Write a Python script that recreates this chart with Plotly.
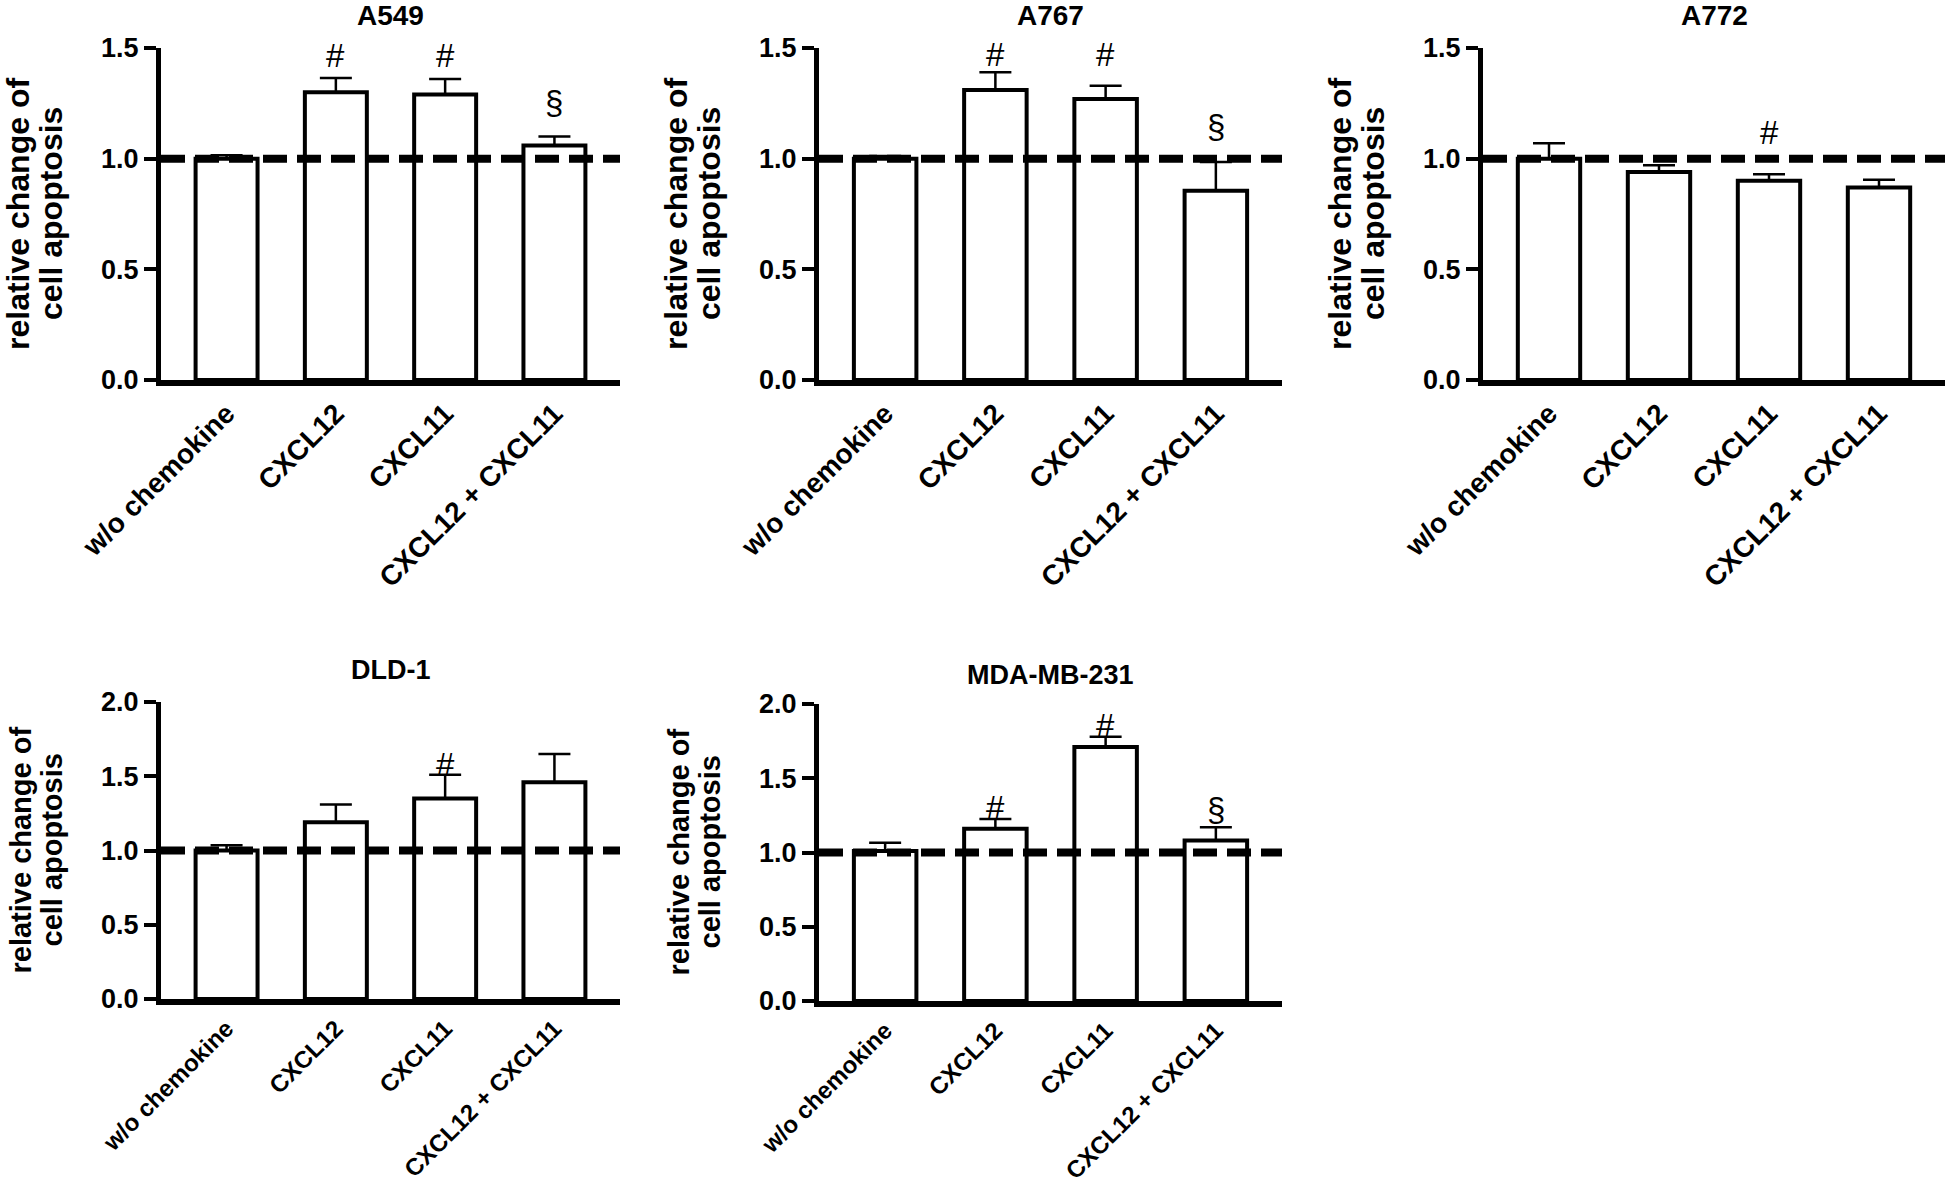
import plotly.graph_objects as go

# ---------------- data ----------------
categories = ["w/o chemokine", "CXCL12", "CXCL11", "CXCL12 + CXCL11"]

panel_names = ["A549", "A767", "A772", "DLD-1", "MDA-MB-231"]

a549_mean = [1.00, 1.30, 1.29, 1.06]
a549_err = [0.015, 0.065, 0.07, 0.04]
a549_sym = ["", "#", "#", "§"]

a767_mean = [1.00, 1.31, 1.27, 0.855]
a767_err = [0.012, 0.08, 0.06, 0.13]
a767_sym = ["", "#", "#", "§"]

a772_mean = [1.00, 0.94, 0.90, 0.87]
a772_err = [0.07, 0.03, 0.03, 0.035]
a772_sym = ["", "", "#", ""]

dld1_mean = [1.00, 1.19, 1.35, 1.46]
dld1_err = [0.035, 0.12, 0.16, 0.19]
dld1_sym = ["", "", "#", ""]

mda_mean = [1.01, 1.16, 1.71, 1.08]
mda_err = [0.055, 0.065, 0.07, 0.09]
mda_sym = ["", "#", "#", "§"]

top_ticks = [0.0, 0.5, 1.0, 1.5]
bottom_ticks = [0.0, 0.5, 1.0, 1.5, 2.0]
reference_level = 1.0

y_title_lines = ["relative change of", "cell apoptosis"]

# ---------------- layout (pixels) ----------------
W, H = 1945, 1186
FONT = "Liberation Sans, Arial, sans-serif"

top_style = dict(label=28, ytitle=32, title=28, offsets=(-143, -110))
bottom_style = dict(label=24, ytitle=29, title=27, offsets=(-141, -110))

layout_cfg = [
    dict(x=(161, 620), y=(48, 380), ty=15, shift=[0, 22, 23, 34], st=top_style),
    dict(x=(819, 1282), y=(48, 380), ty=15, shift=[0, 18, 31, 35], st=top_style),
    dict(x=(1483, 1945), y=(48, 380), ty=15, shift=[0, 0, 42, 0], st=top_style),
    dict(x=(161, 620), y=(702, 999), ty=670, shift=[0, 0, 10, 0], st=bottom_style),
    dict(x=(819, 1282), y=(704, 1001), ty=675, shift=[0, 12, 11, 18], st=bottom_style),
]

series = [
    (a549_mean, a549_err, a549_sym, top_ticks),
    (a767_mean, a767_err, a767_sym, top_ticks),
    (a772_mean, a772_err, a772_sym, top_ticks),
    (dld1_mean, dld1_err, dld1_sym, bottom_ticks),
    (mda_mean, mda_err, mda_sym, bottom_ticks),
]

fig = go.Figure()
annotations = []
shapes = []
lay = {}

for i, (name, cfg, (mean, err, sym, ticks)) in enumerate(zip(panel_names, layout_cfg, series)):
    k = "" if i == 0 else str(i + 1)
    xa, ya = "x" + k, "y" + k
    st = cfg["st"]
    fig.add_trace(go.Bar(
        x=categories, y=mean, xaxis=xa, yaxis=ya,
        width=0.567,
        marker=dict(color="white", line=dict(color="black", width=4)),
        error_y=dict(type="data", symmetric=False, array=err,
                     arrayminus=[0] * len(err), width=16, thickness=2.5,
                     color="black"),
        showlegend=False, hoverinfo="skip",
    ))
    x0, x1 = cfg["x"]
    yt, yb = cfg["y"]
    lay["xaxis" + k] = dict(
        domain=[x0 / W, x1 / W], anchor=ya, type="category",
        range=[-0.6, len(categories) - 0.4], automargin=False,
        showline=True, linewidth=6, linecolor="black", ticks="",
        tickangle=-45, showgrid=False, zeroline=False,
        tickfont=dict(family=FONT, size=st["label"], color="black", weight="bold"),
    )
    lay["yaxis" + k] = dict(
        domain=[1 - yb / H, 1 - yt / H], anchor=xa, automargin=False,
        range=[0, ticks[-1]], tickvals=ticks,
        ticktext=[f"{t:.1f}" for t in ticks],
        showline=True, linewidth=5, linecolor="black",
        ticks="outside", ticklen=12, tickwidth=4, tickcolor="black",
        showgrid=False, zeroline=False,
        tickfont=dict(family=FONT, size=27, color="black", weight="bold"),
    )
    # dashed reference line
    shapes.append(dict(type="line", xref=xa + " domain", yref=ya,
                       x0=0, x1=1, y0=reference_level, y1=reference_level,
                       line=dict(color="black", width=8, dash="24px,10px"),
                       layer="above"))
    # panel title
    annotations.append(dict(text=name, xref="paper", yref="paper",
                            x=(x0 + x1) / 2 / W, y=1 - cfg["ty"] / H,
                            xanchor="center", yanchor="middle", showarrow=False,
                            font=dict(family=FONT, size=st["title"], color="black", weight="bold")))
    # y-axis title (two lines)
    for line, off in zip(y_title_lines, st["offsets"]):
        annotations.append(dict(text=line, xref=xa + " domain", yref=ya + " domain",
                                x=0, y=0.5, xshift=off, xanchor="center", yanchor="middle",
                                textangle=-90, showarrow=False,
                                font=dict(family=FONT, size=st["ytitle"], color="black", weight="bold")))
    # significance symbols
    for c, m, e, s, sh in zip(categories, mean, err, sym, cfg["shift"]):
        if s:
            annotations.append(dict(text=s, xref=xa, yref=ya, x=c, y=m + e,
                                    yshift=sh, xanchor="center", yanchor="middle",
                                    showarrow=False,
                                    font=dict(family=FONT, size=33, color="black")))

fig.update_layout(
    width=W, height=H, margin=dict(l=0, r=0, t=0, b=0),
    paper_bgcolor="white", plot_bgcolor="white",
    annotations=annotations, shapes=shapes, **lay,
)

fig.write_html("out.html", config={"displayModeBar": False},
               post_script="document.body.style.margin='0px';document.body.style.overflow='hidden';")
